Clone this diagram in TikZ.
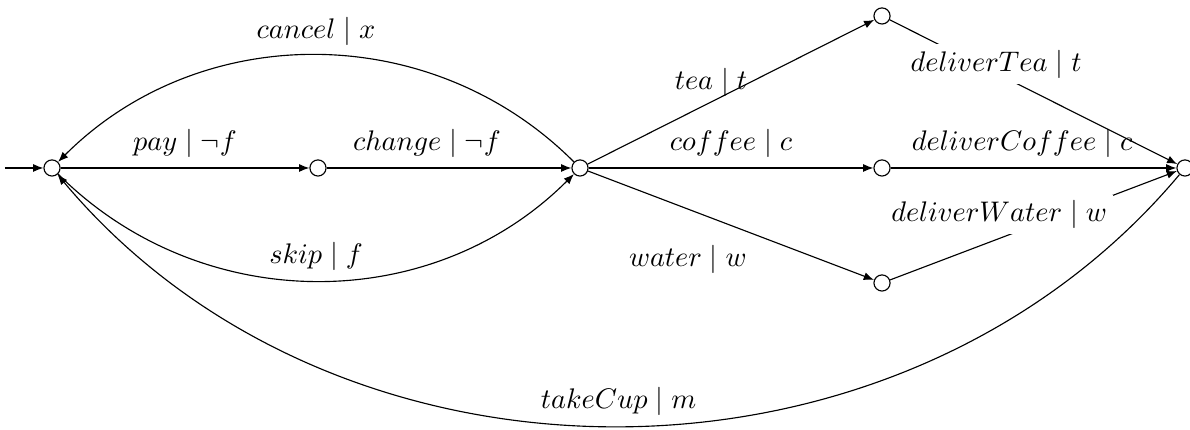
\documentclass[tikz,border=0pt]{standalone}
\usepackage{amsmath, amssymb}
\usepackage{tikz}
\usetikzlibrary{arrows.meta, positioning, calc}

\tikzset{
  loc/.style={draw, circle, fill=white, minimum size=0.2cm, inner sep=0pt},
  trans/.style={-{Latex[length=3.6pt, width=2.8pt]}, thin},
  cut/.style={fill=white, inner sep=2pt}
}

\begin{document}
\begin{tikzpicture}
    \useasboundingbox (0,0) rectangle (14.756,-5.332);

    % States
    \node[loc] (q0) at (0.645,-2.083) {};
    \node[loc] (q1) at (3.943,-2.083) {};
    \node[loc] (q2) at (7.192,-2.083) {};
    \node[loc] (qt) at (10.937,-0.198) {};
    \node[loc] (qc) at (10.937,-2.083) {};
    \node[loc] (qw) at (10.937,-3.509) {};
    \node[loc] (q3) at (14.694,-2.083) {};
    \coordinate (init) at (0.062,-2.083);

    % Transitions
    \draw[trans] (init) -- (q0);
    \draw[trans] (q0) -- node[above] {$pay \mid \neg f$} (q1);
    \draw[trans] (q1) -- node[above, pos=0.41] {$change \mid \neg f$} (q2);
    \draw[trans] (q2) to[bend right=45] node[above] {$cancel \mid x$} (q0);
    \draw[trans] (q0) to[bend right=45] node[above] {$skip \mid f$} (q2);
    \draw[trans] (q2) -- node[above, pos=0.43, yshift=-0.06cm] {$tea \mid t$} (qt);
    \draw[trans] (q2) -- node[above] {$coffee \mid c$} (qc);
    \draw[trans] (q2) -- node[below left, pos=0.59] {$water \mid w$} (qw);
    \draw[trans] (qt) -- node[cut, pos=0.37, yshift=0.11cm] {$deliverTea \mid t$} (q3);
    \draw[trans] (qc) -- node[above, pos=0.46] {$deliverCoffee \mid c$} (q3);
    \draw[trans] (qw) -- node[cut, pos=0.38, yshift=0.3cm] {$deliverWater \mid w$} (q3);
    \draw[trans] (q3) to[bend left=50] node[above] {$takeCup \mid m$} (q0);
\end{tikzpicture}
\end{document}
